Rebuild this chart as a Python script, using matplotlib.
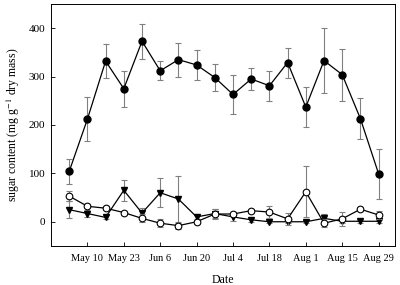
import matplotlib
matplotlib.use("Agg")
import matplotlib.pyplot as plt

# weekly sampling, 18 dates
tick_labels = ["May 10", "May 23", "Jun 6", "Jun 20", "Jul 4",
               "Jul 18", "Aug 1", "Aug 15", "Aug 29"]

filled = [104, 212, 332, 275, 373, 312, 335, 324, 298, 263, 295, 281,
          329, 237, 333, 304, 213, 99]
filled_err = [25, 45, 35, 37, 36, 20, 35, 31, 28, 41, 23, 31,
              31, 42, 67, 54, 43, 52]

opened = [53, 32, 28, 19, 7, -3, -8, 0, 16, 16, 23, 20,
          6, 62, -3, 6, 26, 14]
opened_err = [10, 4, 4, 4, 8, 8, 6, 4, 10, 5, 4, 12,
              12, 53, 8, 14, 4, 8]

tri = [25, 17, 9, 65, 18, 60, 47, 10, 17, 10, 4, 0,
       0, 0, 7, 1, 1, 1]
tri_err = [18, 8, 4, 22, 10, 30, 47, 5, 10, 8, 4, 3,
           3, 3, 8, 3, 3, 3]

x = list(range(len(filled)))

plt.rcParams['font.family'] = ['Liberation Serif', 'DejaVu Serif']
plt.rcParams['mathtext.fontset'] = 'stix'

fig = plt.figure(figsize=(4.0, 2.85), dpi=100)
ax = fig.add_axes([0.1275, 0.137, 0.86, 0.849])

ebkw = dict(ecolor='#808080', elinewidth=0.8, capsize=2.2, capthick=0.8)

ax.errorbar(x, tri, yerr=tri_err, color='black', lw=0.9, marker='v',
            ms=4.5, mfc='black', mec='black', zorder=2, **ebkw)
ax.errorbar(x, opened, yerr=opened_err, color='black', lw=0.9, marker='o',
            ms=4.8, mfc='white', mec='black', mew=0.8, zorder=3, **ebkw)
ax.errorbar(x, filled, yerr=filled_err, color='black', lw=0.9, marker='o',
            ms=5, mfc='black', mec='black', zorder=4, **ebkw)

ax.set_xlim(-1, 17.9)
ax.set_ylim(-50, 450)
ax.set_yticks([0, 100, 200, 300, 400])
ax.set_xticks(x[1::2])
ax.set_xticklabels(tick_labels)
ax.tick_params(direction='in', length=3, width=0.6)
ax.tick_params(axis='x', pad=6, labelsize=7.5)
ax.tick_params(axis='y', pad=4, labelsize=8)
for s in ax.spines.values():
    s.set_linewidth(0.7)

ax.set_xlabel("Date", fontsize=8.5, labelpad=8)
ax.set_ylabel("sugar content (mg g$^{-1}$ dry mass)", fontsize=8.5, labelpad=5)

fig.savefig("out.png", dpi=100)
